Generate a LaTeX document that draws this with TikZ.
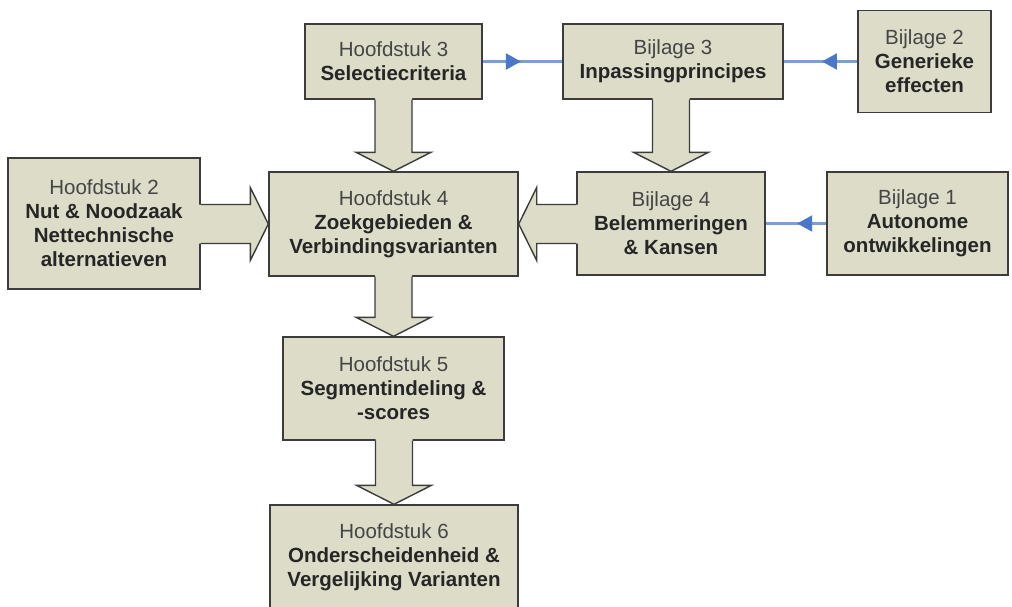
\documentclass[tikz,border=0pt]{standalone}
\usepackage{fontspec}
\setmainfont{Liberation Sans}
\usetikzlibrary{calc,arrows.meta,decorations.markings}
\definecolor{boxfill}{HTML}{DCDCC8}
\definecolor{boxline}{HTML}{3C3C3C}
\definecolor{linkblue}{HTML}{7B9ED6}
\definecolor{headblue}{HTML}{4A78C8}
\definecolor{txt}{HTML}{262626}
\definecolor{txtlight}{HTML}{454545}
\tikzset{
  box/.style={draw=boxline, fill=boxfill, line width=1.4pt, inner sep=0pt,
    align=center, text=txt, font=\fontsize{20.5}{24}\selectfont},
  arrowfill/.style={fill=boxfill},
  arrowline/.style={draw=boxline, line width=1.4pt, line join=miter},
  bluelink/.style={draw=linkblue, line width=2.2pt,
    postaction={decorate},
    decoration={markings, mark=at position 0.48 with {\arrow{Triangle[length=15pt,width=16pt,color=headblue]}}}}
}
% vertical block arrow: source #1 (bottom) to target #2 (top)
\newcommand\blockdown[2]{%
  \fill[arrowfill] ($(#1.south -| #2.north)+(-18.5,-2)$) -- ($(#2.north)+(-18.5,-19)$) -- ($(#2.north)+(-37.5,-19)$) -- (#2.north) -- ($(#2.north)+(37.5,-19)$) -- ($(#2.north)+(18.5,-19)$) -- ($(#1.south -| #2.north)+(18.5,-2)$) -- cycle;
  \draw[arrowline] ($(#1.south -| #2.north)+(-18.5,0)$) -- ($(#2.north)+(-18.5,-19)$) -- ($(#2.north)+(-37.5,-19)$) -- (#2.north) -- ($(#2.north)+(37.5,-19)$) -- ($(#2.north)+(18.5,-19)$) -- ($(#1.south -| #2.north)+(18.5,0)$);}
% horizontal block arrow to the right: source #1 east to target #2 west
\newcommand\blockright[2]{%
  \fill[arrowfill] ($(#1.east |- #2.west)+(-2,-19.5)$) -- ($(#2.west)+(-18,-19.5)$) -- ($(#2.west)+(-18,-36.5)$) -- (#2.west) -- ($(#2.west)+(-18,36.5)$) -- ($(#2.west)+(-18,19.5)$) -- ($(#1.east |- #2.west)+(-2,19.5)$) -- cycle;
  \draw[arrowline] ($(#1.east |- #2.west)+(0,-19.5)$) -- ($(#2.west)+(-18,-19.5)$) -- ($(#2.west)+(-18,-36.5)$) -- (#2.west) -- ($(#2.west)+(-18,36.5)$) -- ($(#2.west)+(-18,19.5)$) -- ($(#1.east |- #2.west)+(0,19.5)$);}
% horizontal block arrow to the left: source #1 west to target #2 east
\newcommand\blockleft[2]{%
  \fill[arrowfill] ($(#1.west |- #2.east)+(2,-19.5)$) -- ($(#2.east)+(18,-19.5)$) -- ($(#2.east)+(18,-36.5)$) -- (#2.east) -- ($(#2.east)+(18,36.5)$) -- ($(#2.east)+(18,19.5)$) -- ($(#1.west |- #2.east)+(2,19.5)$) -- cycle;
  \draw[arrowline] ($(#1.west |- #2.east)+(0,-19.5)$) -- ($(#2.east)+(18,-19.5)$) -- ($(#2.east)+(18,-36.5)$) -- (#2.east) -- ($(#2.east)+(18,36.5)$) -- ($(#2.east)+(18,19.5)$) -- ($(#1.west |- #2.east)+(0,19.5)$);}
\newcommand\hd[1]{\textcolor{txtlight}{#1}}
\begin{document}
\begin{tikzpicture}[x=1pt,y=-1pt]
\useasboundingbox[fill=white] (0,0) rectangle (1012,606);
\node[box, minimum width=177pt, minimum height=75pt] (h3) at (393.5,61.5) {\hd{Hoofdstuk 3}\\\textbf{Selectiecriteria}};
\node[box, minimum width=220pt, minimum height=75pt] (b3) at (673,61.5) {\hd{Bijlage 3}\\\textbf{Inpassingprincipes}};
\node[box, minimum width=133pt, minimum height=102pt] (b2) at (924.5,61.5) {\hd{Bijlage 2}\\\textbf{Generieke}\\\textbf{effecten}};
\node[box, minimum width=192pt, minimum height=131pt] (h2) at (104,223.5) {\hd{Hoofdstuk 2}\\\textbf{Nut \& Noodzaak}\\\textbf{Nettechnische}\\\textbf{alternatieven}};
\node[box, minimum width=249pt, minimum height=104pt] (h4) at (393.5,224) {\hd{Hoofdstuk 4}\\\textbf{Zoekgebieden \&}\\\textbf{Verbindingsvarianten}};
\node[box, minimum width=188pt, minimum height=103pt] (b4) at (671,223.5) {\hd{Bijlage 4}\\\textbf{Belemmeringen}\\\textbf{\& Kansen}};
\node[box, minimum width=181pt, minimum height=103pt] (b1) at (917.5,223.5) {\hd{Bijlage 1}\\\textbf{Autonome}\\\textbf{ontwikkelingen}};
\node[box, minimum width=221pt, minimum height=103pt] (h5) at (393.5,388.5) {\hd{Hoofdstuk 5}\\\textbf{Segmentindeling \&}\\\textbf{-scores}};
\node[box, minimum width=248pt, minimum height=104pt] (h6) at (394,557) {\hd{Hoofdstuk 6}\\\textbf{Onderscheidenheid \&}\\\textbf{Vergelijking Varianten}};
\blockdown{h3}{h4}
\blockdown{b3}{b4}
\blockdown{h4}{h5}
\blockdown{h5}{h6}
\blockright{h2}{h4}
\blockleft{b4}{h4}
\draw[bluelink] (h3.east) -- (b3.west);
\draw[bluelink] (b2.west) -- (b3.east);
\draw[bluelink] (b1.west) -- (b4.east);
\end{tikzpicture}
\end{document}
